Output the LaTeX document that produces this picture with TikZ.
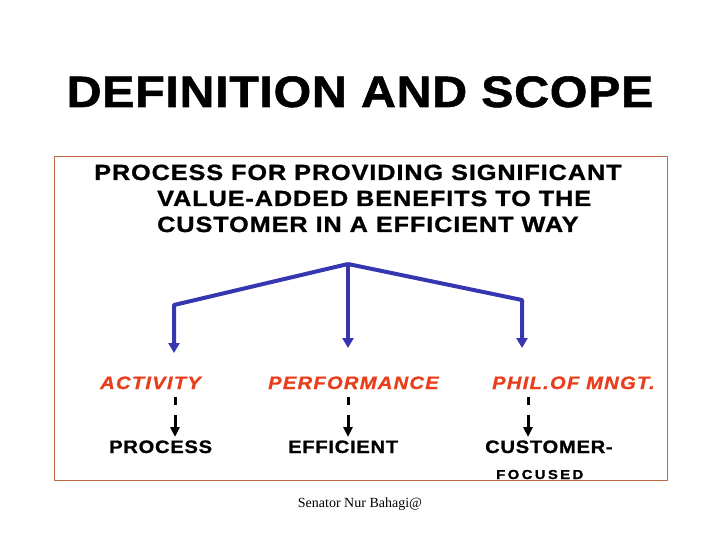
\documentclass[tikz,border=0pt]{standalone}
\usepackage{fontspec}
\setmainfont{Liberation Sans}
\newfontfamily\serifft{Liberation Serif}
\usetikzlibrary{arrows.meta}
\definecolor{arrowblue}{RGB}{54,54,176}
\definecolor{labelred}{RGB}{232,62,28}
\definecolor{framebrown}{RGB}{192,104,74}
\tikzset{
  titletext/.style={inner sep=0pt, anchor=base, font=\fontsize{44}{50}\selectfont\bfseries\addfontfeature{FakeStretch=1.1,FakeBold=1.2,LetterSpace=1.5}},
  bodytext/.style={inner sep=0pt, anchor=base west, font=\fontsize{22}{26}\selectfont\bfseries\addfontfeature{FakeStretch=1.15,FakeBold=1,LetterSpace=4}},
  redlabel/.style={inner sep=0pt, anchor=base west, text=labelred, font=\fontsize{18}{20}\selectfont\bfseries\itshape\addfontfeature{FakeStretch=1.12,FakeBold=1,LetterSpace=7}},
  blacklabel/.style={inner sep=0pt, anchor=base west, font=\fontsize{18}{20}\selectfont\bfseries\addfontfeature{FakeStretch=1.12,FakeBold=1,LetterSpace=4}},
  smalllabel/.style={inner sep=0pt, anchor=base west, font=\fontsize{13}{15}\selectfont\bfseries\addfontfeature{FakeStretch=1.15,FakeBold=1,LetterSpace=18}},
  footer/.style={inner sep=0pt, anchor=base, font=\fontsize{14}{16}\selectfont\serifft},
  framebox/.style={draw=framebrown, line width=1pt},
  bluearrow/.style={draw=arrowblue, line width=4pt, line join=round, -{Triangle[width=11pt,length=10pt]}},
  blackarrow/.style={draw=black, line width=3pt, dash pattern=on 8pt off 10pt on 30pt, -{Triangle[width=9pt,length=10pt]}}
}
\begin{document}
\begin{tikzpicture}[x=1pt,y=-1pt]
\useasboundingbox (0,0) rectangle (720,540);
\draw[framebox] (54,157) rectangle (667,480);
\node[titletext] (title) at (360,107) {DEFINITION AND SCOPE};
\node[bodytext] (l1) at (94,180) {PROCESS FOR PROVIDING SIGNIFICANT};
\node[bodytext] (l2) at (157,206) {VALUE-ADDED BENEFITS TO THE};
\node[bodytext] (l3) at (157,232) {CUSTOMER IN A EFFICIENT WAY};
% blue tree
\coordinate (apex) at (348,264);
\coordinate (lc) at (174,305);
\coordinate (rc) at (522,300);
\coordinate (ltip) at (174,353);
\coordinate (mtip) at (348,348);
\coordinate (rtip) at (522,348);
\draw[bluearrow] (apex) -- (lc) -- (ltip);
\draw[bluearrow] (apex) -- (mtip);
\draw[bluearrow] (apex) -- (rc) -- (rtip);
% red labels
\node[redlabel] (act) at (100,389) {ACTIVITY};
\node[redlabel] (perf) at (268,389) {PERFORMANCE};
\node[redlabel] (phil) at (492,389) {PHIL.OF MNGT.};
% black labels
\node[blacklabel] (proc) at (109,453) {PROCESS};
\node[blacklabel] (effi) at (288,453) {EFFICIENT};
\node[blacklabel] (cust) at (485,453) {CUSTOMER-};
\node[smalllabel] (focu) at (496,479) {FOCUSED};
% small black arrows
\coordinate (a1) at (175,397); \coordinate (b1) at (175,437);
\coordinate (a2) at (348,397); \coordinate (b2) at (348,437);
\coordinate (a3) at (528,397); \coordinate (b3) at (528,437);
\draw[blackarrow] (a1) -- (b1);
\draw[blackarrow] (a2) -- (b2);
\draw[blackarrow] (a3) -- (b3);
\node[footer] (foot) at (360,507) {Senator Nur Bahagi@};
\end{tikzpicture}
\end{document}
